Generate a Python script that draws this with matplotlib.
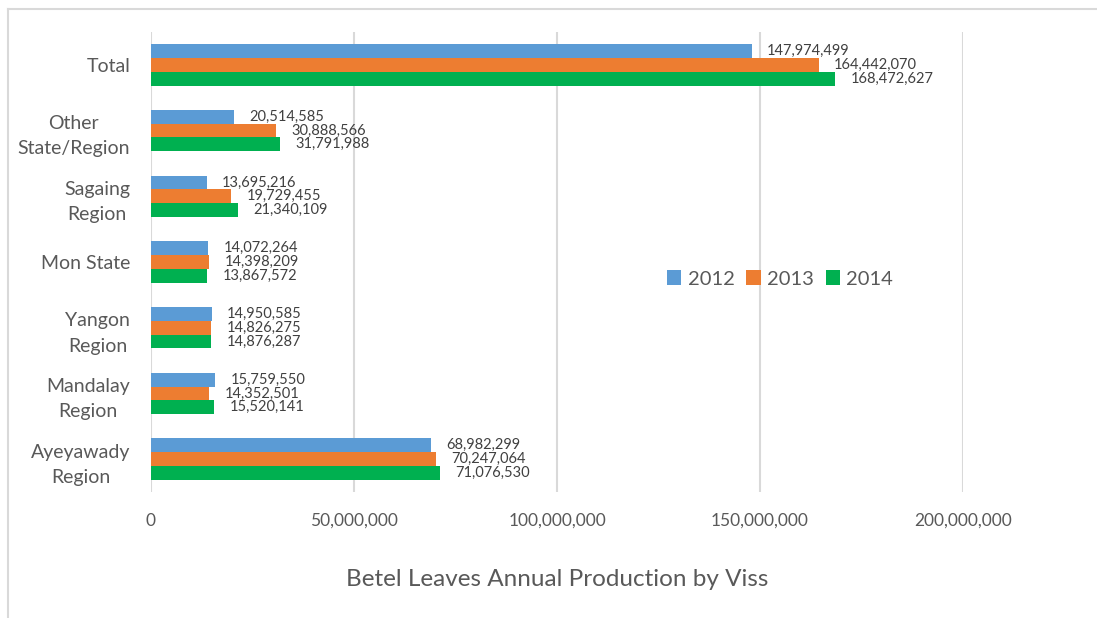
import matplotlib
matplotlib.use("Agg")
import matplotlib.pyplot as plt
import numpy as np
from matplotlib.lines import Line2D

categories = ["Total", "Other\nState/Region", "Sagaing\nRegion", "Mon State",
              "Yangon\nRegion", "Mandalay\nRegion", "Ayeyawady\nRegion"]
years = ["2012", "2013", "2014"]
v2012 = [147974499, 20514585, 13695216, 14072264, 14950585, 15759550, 68982299]
v2013 = [164442070, 30888566, 19729455, 14398209, 14826275, 14352501, 70247064]
v2014 = [168472627, 31791988, 21340109, 13867572, 14876287, 15520141, 71076530]
series = [v2012, v2013, v2014]
colors = ["#5B9BD5", "#ED7D31", "#00B050"]
xticks = [0, 50000000, 100000000, 150000000, 200000000]
xlabel = "Betel Leaves Annual Production by Viss"

plt.rcParams['font.family'] = ['Lato', 'DejaVu Sans']
W, H = 1097, 618
fig = plt.figure(figsize=(W / 100, H / 100), dpi=100)
ax = fig.add_axes([151 / W, 1 - 492 / H, (963 - 151) / W, (492 - 32) / H])

n = len(categories)
pos = np.arange(n)[::-1].astype(float)
bh = 0.21
txt = "#595959"
for i, (vals, c, y) in enumerate(zip(series, colors, years)):
    yy = pos + (1 - i) * bh
    ax.barh(yy, vals, height=bh, color=c, label=y, zorder=3)
    for yv, v in zip(yy, vals):
        ax.annotate(f"{v:,}", (v, yv), xytext=(11, 0), textcoords="offset points",
                    va="center", ha="left", fontsize=10.5, color="#404040")

ax.set_xlim(0, 200000000)
ax.set_ylim(-0.5, n - 0.5)
ax.set_yticks(pos)
ax.set_yticklabels(categories, fontsize=14, color=txt, linespacing=1.6,
                   multialignment="center")
ax.set_xticks(xticks)
ax.set_xticklabels([f"{t:,}" for t in xticks], fontsize=12.5, color=txt)
ax.tick_params(length=0, pad=15, axis='x')
ax.tick_params(length=0, pad=15, axis='y')
ax.grid(axis='x', color="#D9D9D9", linewidth=1.5, zorder=0)
for s in ax.spines.values():
    s.set_visible(False)
ax.set_xlabel(xlabel, fontsize=17.5, color=txt, labelpad=29)

leg = ax.legend(loc="center", bbox_to_anchor=((780 - 151) / (963 - 151), (492 - 279) / (492 - 32)),
                ncol=3, frameon=False, fontsize=14.5, handlelength=0.7, handleheight=0.7,
                handletextpad=0.3, columnspacing=0.6, labelcolor=txt)

fig.add_artist(Line2D([8 / W, 1], [1 - 9 / H, 1 - 9 / H], transform=fig.transFigure,
                      color="#D9D9D9", linewidth=1.5))
fig.add_artist(Line2D([8 / W, 8 / W], [0, 1 - 9 / H], transform=fig.transFigure,
                      color="#D9D9D9", linewidth=1.5))

fig.savefig("out.png", dpi=100)
